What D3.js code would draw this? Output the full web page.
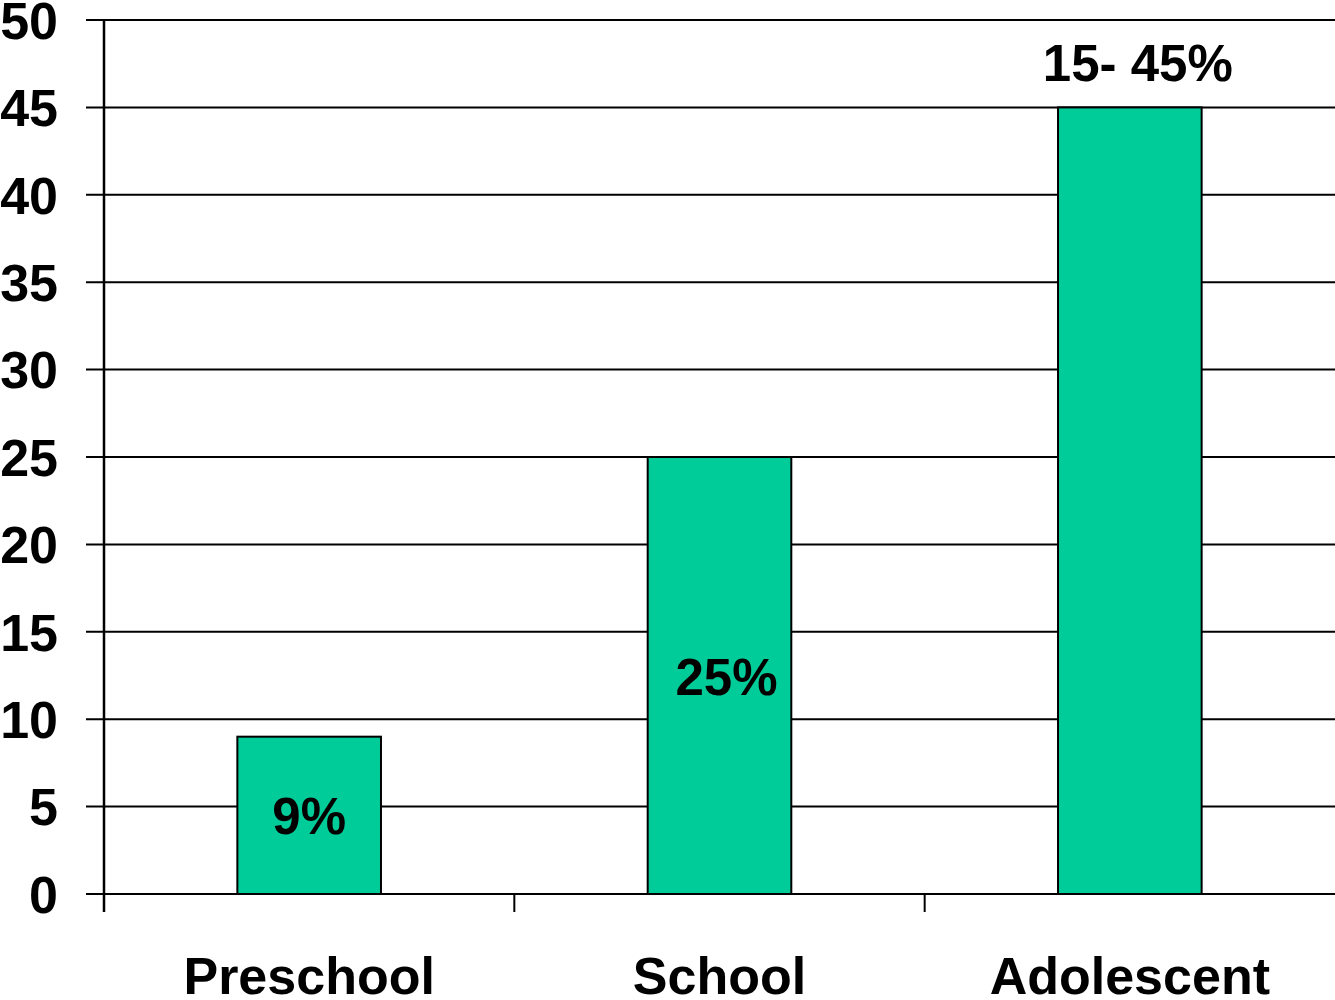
<!DOCTYPE html>
<html>
<head>
<meta charset="utf-8">
<script src="https://cdn.jsdelivr.net/npm/d3@7"></script>
<style>
  html, body { margin: 0; padding: 0; background: #fff; }
  svg { display: block; font-family: "Liberation Sans", Arial, sans-serif; font-weight: bold; }
</style>
</head>
<body>
<svg id="chart" width="1335" height="1000"></svg>
<script>
// Age groups and prevalence (%)
const categories = ["Preschool", "School", "Adolescent"];
const values = [9, 25, 45];
const valueLabels = ["9%", "25%", "15- 45%"];
const yTicks = [0, 5, 10, 15, 20, 25, 30, 35, 40, 45, 50];

(function () {
  const svg = d3.select("#chart");
  const plotLeft = 104, plotTop = 20, plotBottom = 894, plotRight = 1335;

  const x = d3.scaleBand().domain(categories).range([plotLeft, plotRight]).padding(0);
  const y = d3.scaleLinear().domain([0, 50]).range([plotBottom, plotTop]);
  const barW = x.bandwidth() * 0.35;

  // Horizontal gridlines with outward ticks
  svg.append("g").selectAll("line")
    .data(yTicks)
    .join("line")
    .attr("x1", plotLeft - 18)
    .attr("x2", plotRight)
    .attr("y1", d => y(d))
    .attr("y2", d => y(d))
    .attr("stroke", "#000")
    .attr("stroke-width", 2);

  // Y tick labels
  svg.append("g").selectAll("text")
    .data(yTicks)
    .join("text")
    .attr("x", 58)
    .attr("y", d => y(d))
    .attr("dy", "0.36em")
    .attr("text-anchor", "end")
    .attr("font-size", 52)
    .attr("fill", "#000")
    .text(d => d);

  // Bars
  svg.append("g").selectAll("rect")
    .data(values)
    .join("rect")
    .attr("x", (d, i) => x(categories[i]) + x.bandwidth() / 2 - barW / 2)
    .attr("y", d => y(d))
    .attr("width", barW)
    .attr("height", d => y(0) - y(d))
    .attr("fill", "#00CC99")
    .attr("stroke", "#000")
    .attr("stroke-width", 2);

  // Y axis line
  svg.append("line")
    .attr("x1", plotLeft).attr("x2", plotLeft)
    .attr("y1", plotTop).attr("y2", plotBottom + 18)
    .attr("stroke", "#000").attr("stroke-width", 2.5);

  // Category boundary ticks between groups
  const bounds = categories.slice(1).map(c => x(c));
  svg.append("g").selectAll("line")
    .data(bounds)
    .join("line")
    .attr("x1", d => d).attr("x2", d => d)
    .attr("y1", plotBottom).attr("y2", plotBottom + 18)
    .attr("stroke", "#000").attr("stroke-width", 2);

  // Category labels
  svg.append("g").selectAll("text")
    .data(categories)
    .join("text")
    .attr("x", d => x(d) + x.bandwidth() / 2)
    .attr("y", 994)
    .attr("text-anchor", "middle")
    .attr("font-size", 52)
    .attr("fill", "#000")
    .text(d => d);

  // Value labels: inside the bar when it is tall enough, otherwise above
  const labelDx = [0, 7, 8];
  svg.append("g").selectAll("text")
    .data(values)
    .join("text")
    .attr("x", (d, i) => x(categories[i]) + x.bandwidth() / 2 + labelDx[i])
    .attr("y", (d, i) => i === values.length - 1 ? y(d) - 26 : (y(d) + y(0)) / 2 + 19)
    .attr("text-anchor", "middle")
    .attr("font-size", 51)
    .attr("fill", "#000")
    .text((d, i) => valueLabels[i]);
})();
</script>
</body>
</html>
